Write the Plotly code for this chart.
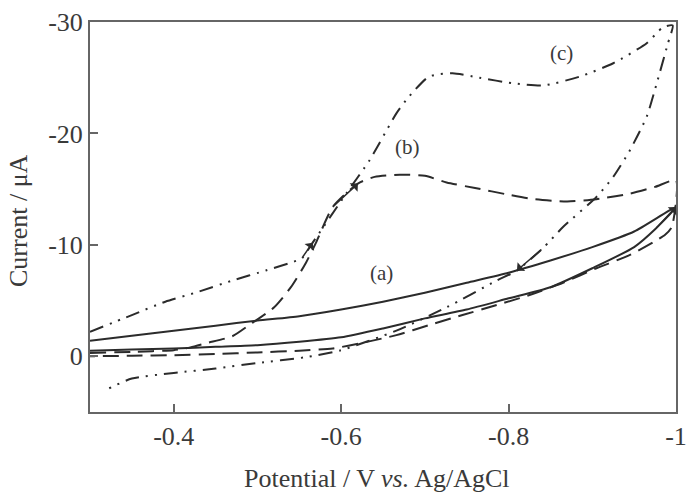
import plotly.graph_objects as go

# ---- data (potential in V, current in uA) ----
a_x = [-0.30, -0.35, -0.40, -0.45, -0.50, -0.55, -0.60, -0.65, -0.70, -0.75, -0.80, -0.85, -0.90, -0.95, -0.975, -1.00,
       -0.95, -0.90, -0.85, -0.80, -0.75, -0.70, -0.65, -0.60, -0.55, -0.50, -0.45, -0.40, -0.35, -0.30]
a_y = [-0.5, -0.6, -0.7, -0.85, -1.0, -1.3, -1.7, -2.5, -3.4, -4.2, -5.2, -6.2, -7.9, -9.8, -11.4, -13.4,
       -11.2, -9.8, -8.6, -7.5, -6.6, -5.7, -4.9, -4.2, -3.6, -3.2, -2.75, -2.3, -1.85, -1.4]

b_x = [-0.30, -0.35, -0.40, -0.42, -0.44, -0.47, -0.49, -0.52, -0.54, -0.558, -0.57, -0.59, -0.62, -0.64, -0.67, -0.70,
       -0.726, -0.76, -0.80, -0.83, -0.87, -0.905, -0.945, -0.975, -1.00,
       -0.995, -0.987, -0.945, -0.905, -0.865, -0.825, -0.786, -0.745, -0.705, -0.666, -0.625, -0.59, -0.55, -0.50,
       -0.45, -0.40, -0.35, -0.30]
b_y = [-0.3, -0.4, -0.55, -0.8, -1.2, -1.8, -2.8, -4.4, -6.2, -8.4, -10.2, -13.4, -15.5, -16.1, -16.3, -16.2,
       -15.6, -15.1, -14.5, -14.1, -13.9, -14.1, -14.6, -15.2, -15.8,
       -11.6, -10.9, -9.1, -7.9, -6.6, -5.5, -4.6, -3.7, -2.8, -1.9, -1.2, -0.7, -0.5, -0.35,
       -0.2, -0.1, -0.05, 0.0]

c_x = [-0.30, -0.35, -0.39, -0.43, -0.47, -0.51, -0.54, -0.553, -0.566, -0.606, -0.634, -0.666, -0.681, -0.705, -0.733,
       -0.765, -0.805, -0.841, -0.885, -0.925, -0.965, -0.984, -0.996,
       -0.99, -0.977, -0.965, -0.945, -0.925, -0.905, -0.865, -0.841, -0.81, -0.786, -0.726, -0.666, -0.598, -0.556,
       -0.50, -0.45, -0.40, -0.35, -0.322]
c_y = [-2.2, -3.7, -4.9, -5.8, -6.8, -7.7, -8.4, -8.8, -10.2, -14.6, -17.6, -21.8, -23.3, -25.1, -25.4,
       -25.0, -24.5, -24.3, -25.1, -26.3, -28.1, -29.5, -29.7,
       -28.0, -24.5, -21.5, -18.5, -16.1, -14.3, -11.6, -9.7, -7.7, -6.8, -4.4, -2.3, -0.5, 0.1,
       0.6, 1.1, 1.5, 2.0, 2.9]

x_ticks = [-0.4, -0.6, -0.8, -1.0]
x_ticktext = ["-0.4", "-0.6", "-0.8", "-1"]
y_ticks = [-30, -20, -10, 0]
y_ticktext = ["-30", "-20", "-10", "0"]

labels = ["(a)", "(b)", "(c)"]
label_x = [-0.648, -0.679, -0.863]
label_y = [-7.5, -18.8, -27.2]

x_title = "Potential / V <i>vs.</i> Ag/AgCl"
y_title = "Current / μA"

LINE = "#2b2b2b"
AXIS = "#666666"
TXT = "#3a3a3a"
FONT = "Liberation Serif, Times New Roman, serif"

fig = go.Figure()
fig.add_trace(go.Scatter(x=a_x, y=a_y, mode="lines", line=dict(color=LINE, width=2, shape="spline", smoothing=0.6)))
fig.add_trace(go.Scatter(x=b_x, y=b_y, mode="lines", line=dict(color=LINE, width=2, dash="16px,8px", shape="spline", smoothing=0.6)))
fig.add_trace(go.Scatter(x=c_x, y=c_y, mode="lines",
                         line=dict(color=LINE, width=2, dash="14px,7px,2px,7px,2px,7px", shape="spline", smoothing=0.6)))

for t, lx, ly in zip(labels, label_x, label_y):
    fig.add_annotation(x=lx, y=ly, text=t, showarrow=False, font=dict(family=FONT, size=21, color=TXT))

# scan-direction arrowheads, placed on points of the series
arrows = [(c_x, c_y, 8, 7), (c_x, c_y, 31, 30), (a_x, a_y, 15, 14), (b_x, b_y, 12, 11)]
for sx, sy, i, j in arrows:
    fig.add_annotation(x=sx[i], y=sy[i], ax=sx[j], ay=sy[j], axref="x", ayref="y", xref="x", yref="y",
                       text="", showarrow=True, arrowhead=1, arrowsize=1.3, arrowwidth=1.5, arrowcolor=LINE)

# axis titles
fig.add_annotation(xref="paper", yref="paper", x=0.5, y=0, xanchor="center", yanchor="middle",
                   xshift=-6, yshift=-66, text=x_title, showarrow=False,
                   font=dict(family=FONT, size=26, color=TXT))
fig.add_annotation(xref="paper", yref="paper", x=0, y=0.5, xanchor="center", yanchor="middle",
                   xshift=-72, yshift=-4, text=y_title, textangle=-90, showarrow=False,
                   font=dict(family=FONT, size=26, color=TXT))

fig.update_layout(
    width=687, height=496,
    margin=dict(l=90, r=11, t=22, b=84, autoexpand=False),
    paper_bgcolor="white", plot_bgcolor="white",
    showlegend=False,
    font=dict(family=FONT, size=26, color=TXT),
)
fig.update_xaxes(range=[-0.3, -1.0], tickvals=x_ticks, ticktext=x_ticktext, ticks="inside", ticklen=8,
                 tickwidth=2, tickcolor=AXIS, showline=True, linecolor=AXIS, linewidth=2, mirror=True,
                 showgrid=False, zeroline=False, tickfont=dict(size=26), automargin=False)
fig.update_yaxes(range=[5, -30], tickvals=y_ticks, ticktext=y_ticktext, ticks="inside", ticklen=8,
                 tickwidth=2, tickcolor=AXIS, showline=True, linecolor=AXIS, linewidth=2, mirror=True,
                 showgrid=False, zeroline=False, tickfont=dict(size=26), automargin=False)

fig.write_html("out.html")
